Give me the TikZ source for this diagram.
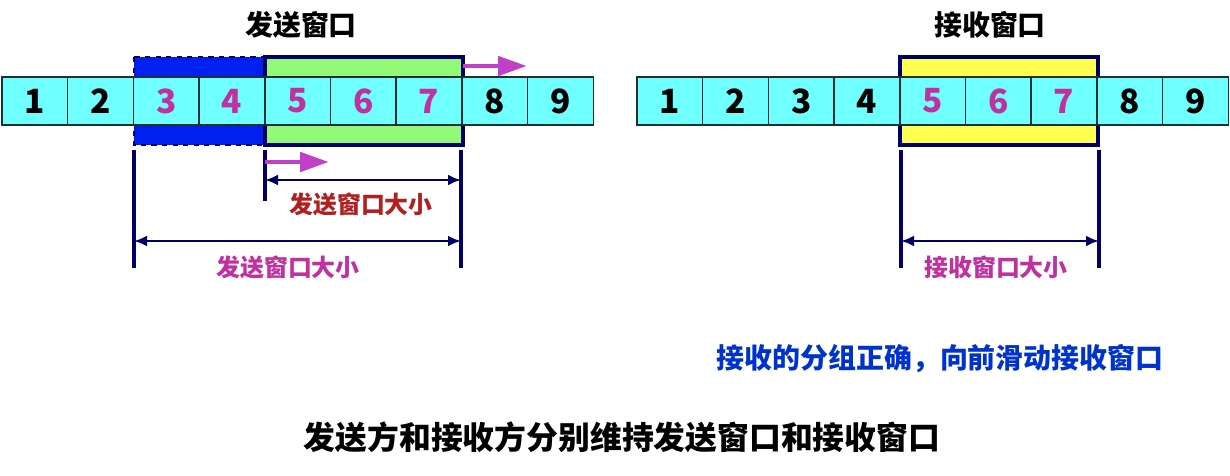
\documentclass[tikz,border=0pt]{standalone}
\usepackage{fontspec}
\newfontfamily\cjk{Noto Sans CJK SC}
\usetikzlibrary{arrows.meta}
\definecolor{cellcyan}{RGB}{112,255,255}
\definecolor{cellline}{RGB}{32,48,48}
\definecolor{sentblue}{RGB}{0,32,240}
\definecolor{sendgreen}{RGB}{146,250,120}
\definecolor{recvyellow}{RGB}{255,255,80}
\definecolor{navy}{RGB}{0,0,102}
\definecolor{magtext}{RGB}{192,48,160}
\definecolor{arrowmag}{RGB}{192,64,200}
\definecolor{darkred}{RGB}{176,32,32}
\definecolor{bluetext}{RGB}{0,51,204}
\begin{document}
\begin{tikzpicture}[x=.2mm,y=-.2mm,line width=.85pt,
 cell/.style={draw=cellline,fill=cellcyan,minimum width=13.14mm,minimum height=9.6mm,inner sep=0pt,font=\cjk\bfseries\fontsize{19}{19}\selectfont},
 win/.style={draw=navy,line width=2.3pt},
 bar/.style={draw=navy,line width=1.8pt},
 dim/.style={draw=navy,line width=1.7pt,{Latex[length=2.6mm,width=2.2mm]}-{Latex[length=2.6mm,width=2.2mm]}},
 mv/.style={draw=arrowmag,line width=2.8pt,-{Triangle[length=5.8mm,width=3.8mm]}},
 txt/.style={font=\cjk\bfseries\fontsize{#1}{#1}\selectfont,inner sep=1pt}]
 \useasboundingbox (0,0) rectangle (1230,476);
 % windows
 \draw[dashed,draw=navy,line width=1pt,fill=sentblue] (134,57) rectangle (265,145);
 \draw[win,fill=sendgreen] (265,57) rectangle (463,145);
 \draw[win,fill=recvyellow] (900,57) rectangle (1098,145);
 % cells
 \foreach \i/\c in {1/black,2/black,3/magtext,4/magtext,5/magtext,6/magtext,7/magtext,8/black,9/black}{\node[cell,text=\c] (s\i) at ({2+65.7*(\i-.5)},101) {\i};}
 \foreach \i/\c in {1/black,2/black,3/black,4/black,5/magtext,6/magtext,7/magtext,8/black,9/black}{\node[cell,text=\c] (r\i) at ({637+65.7*(\i-.5)},101) {\i};}
 \node[txt=15.9] (ttls) at (301,25) {发送窗口};
 \node[txt=15.9] (ttlr) at (990,25) {接收窗口};
 % sender marks
 \coordinate (a1) at (134,150); \coordinate (a2) at (134,268);
 \coordinate (b1) at (265,150); \coordinate (b2) at (265,201);
 \coordinate (c1) at (461,150); \coordinate (c2) at (461,268);
 \coordinate (d1) at (265,180); \coordinate (d2) at (461,180);
 \coordinate (e1) at (134,241); \coordinate (e2) at (461,241);
 \coordinate (m1) at (463,66); \coordinate (m2) at (527,66);
 \coordinate (n1) at (265,162); \coordinate (n2) at (329,162);
 \draw[bar] (a1) -- (a2); \draw[bar] (b1) -- (b2); \draw[bar] (c1) -- (c2);
 \draw[dim] (d1) -- (d2); \draw[dim] (e1) -- (e2);
 \draw[mv] (m1) -- (m2); \draw[mv] (n1) -- (n2);
 \node[txt=13.6,text=darkred] (lbls) at (361,204) {发送窗口大小};
 \node[txt=13.6,text=magtext] (lblw) at (288,267) {发送窗口大小};
 % receiver marks
 \coordinate (f1) at (901,150); \coordinate (f2) at (901,268);
 \coordinate (g1) at (1099,150); \coordinate (g2) at (1099,268);
 \coordinate (h1) at (901,241); \coordinate (h2) at (1099,241);
 \draw[bar] (f1) -- (f2); \draw[bar] (g1) -- (g2);
 \draw[dim] (h1) -- (h2);
 \node[txt=13.6,text=magtext] (lblr) at (996,267) {接收窗口大小};
 \node[txt=15.9,text=bluetext] (note) at (940,359) {接收的分组正确，向前滑动接收窗口};
 \node[txt=18.1] (cap) at (622,437) {发送方和接收方分别维持发送窗口和接收窗口};
\end{tikzpicture}
\end{document}
